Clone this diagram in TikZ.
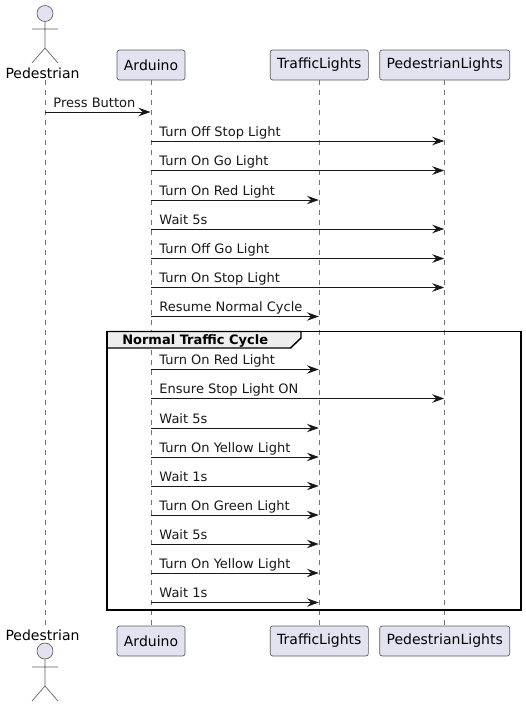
\documentclass[tikz,border=0pt]{standalone}
\usepackage{fontspec}
\setmainfont{DejaVu Sans}
\usetikzlibrary{arrows.meta}
\definecolor{boxfill}{HTML}{E2E2F0}
\definecolor{boxline}{HTML}{181818}
\definecolor{tabfill}{HTML}{EEEEEE}
\begin{document}
\begin{tikzpicture}[x=0.75pt,y=-0.75pt,
  party node/.style={draw=boxline!70, fill=boxfill, rounded corners=1.9pt, line width=0.5pt, font=\fontsize{10.5}{12}\selectfont, minimum height=22.5pt, inner xsep=5.2pt, inner ysep=0pt},
  actor node/.style={font=\fontsize{10.5}{12}\selectfont, inner sep=0pt, text height=8pt, text depth=0pt, minimum height=10.5pt},
  actor figure/.style={draw=boxline!70, line width=0.5pt},
  spine/.style={draw=boxline!60, line width=0.4pt, dash pattern=on 3.75pt off 3.75pt},
  message/.style={draw=boxline, line width=0.7pt, -{Stealth[length=9pt,width=6.4pt,inset=3.2pt]}, shorten >=0.4pt},
  message label/.style={pos=0, anchor=base west, inner sep=0pt, xshift=6pt, yshift=3.75pt, text=boxline, font=\fontsize{9.75}{12}\selectfont},
  group frame/.style={draw=black, line width=1.1pt},
  group title/.style={anchor=base west, inner sep=0pt, font=\fontsize{9.75}{12}\selectfont\bfseries}]
\path[use as bounding box] (0,0) rectangle (525,707);
  % Top row
\node[actor node] (pedTop) at (42.5,73) {Pedestrian};
\node[party node] (ardTop) at (151,65) {Arduino};
\node[party node] (trafTop) at (319.3,65) {TrafficLights};
\node[party node] (pedlTop) at (444.7,65) {PedestrianLights};
  % Bottom row
\node[actor node] (pedBot) at (42.5,635) {Pedestrian};
\node[party node] (ardBot) at (151,641) {Arduino};
\node[party node] (trafBot) at (319.3,641) {TrafficLights};
\node[party node] (pedlBot) at (444.7,641) {PedestrianLights};
  % Lifelines
\coordinate (pedLineTop) at (45,79.5);
\coordinate (pedLineBot) at (45,627.5);
\draw[spine] (pedLineTop) -- (pedLineBot);
\draw[spine] (ardTop) -- (ardBot);
\draw[spine] (trafTop) -- (trafBot);
\draw[spine] (pedlTop) -- (pedlBot);
  % Actors
\draw[actor figure, fill=boxfill] (45,13.5) circle[radius=6pt];
\draw[actor figure] (45,21.5) -- (45,48) (32,29) -- (58,29) (32,63) -- (45,48) -- (58,63);
\draw[actor figure, fill=boxfill] (45,651) circle[radius=6pt];
\draw[actor figure] (45,659) -- (45,686) (32,667) -- (58,667) (32,701) -- (45,686) -- (58,701);
  % Group frame
\draw[group frame, fill=tabfill] (107,331.5) -- (301,331.5) -- (301,338) -- (290.5,348) -- (107,348) -- cycle;
\draw[group frame] (107,331.5) rectangle (521,610);
\node[group title] (groupTitle) at (122,344) {Normal Traffic Cycle};
  % Messages before the group
\coordinate (p1) at (pedLineTop |- 0,112);
\coordinate (a1) at (ardTop |- 0,112);
\draw[message] (p1) -- (a1) node[message label] (m1) {Press Button};
\coordinate (a2) at (ardTop |- 0,141);
\coordinate (l2) at (pedlTop |- 0,141);
\draw[message] (a2) -- (l2) node[message label] (m2) {Turn Off Stop Light};
\coordinate (a3) at (ardTop |- 0,170.5);
\coordinate (l3) at (pedlTop |- 0,170.5);
\draw[message] (a3) -- (l3) node[message label] (m3) {Turn On Go Light};
\coordinate (a4) at (ardTop |- 0,200);
\coordinate (t4) at (trafTop |- 0,200);
\draw[message] (a4) -- (t4) node[message label] (m4) {Turn On Red Light};
\coordinate (a5) at (ardTop |- 0,229);
\coordinate (l5) at (pedlTop |- 0,229);
\draw[message] (a5) -- (l5) node[message label] (m5) {Wait 5s};
\coordinate (a6) at (ardTop |- 0,258.5);
\coordinate (l6) at (pedlTop |- 0,258.5);
\draw[message] (a6) -- (l6) node[message label] (m6) {Turn Off Go Light};
\coordinate (a7) at (ardTop |- 0,287.5);
\coordinate (l7) at (pedlTop |- 0,287.5);
\draw[message] (a7) -- (l7) node[message label] (m7) {Turn On Stop Light};
\coordinate (a8) at (ardTop |- 0,316.5);
\coordinate (t8) at (trafTop |- 0,316.5);
\draw[message] (a8) -- (t8) node[message label] (m8) {Resume Normal Cycle};
  % Messages in the group
\coordinate (a9) at (ardTop |- 0,369.5);
\coordinate (t9) at (trafTop |- 0,369.5);
\draw[message] (a9) -- (t9) node[message label] (m9) {Turn On Red Light};
\coordinate (a10) at (ardTop |- 0,398.5);
\coordinate (l10) at (pedlTop |- 0,398.5);
\draw[message] (a10) -- (l10) node[message label] (m10) {Ensure Stop Light ON};
\coordinate (a11) at (ardTop |- 0,428);
\coordinate (t11) at (trafTop |- 0,428);
\draw[message] (a11) -- (t11) node[message label] (m11) {Wait 5s};
\coordinate (a12) at (ardTop |- 0,457);
\coordinate (t12) at (trafTop |- 0,457);
\draw[message] (a12) -- (t12) node[message label] (m12) {Turn On Yellow Light};
\coordinate (a13) at (ardTop |- 0,486);
\coordinate (t13) at (trafTop |- 0,486);
\draw[message] (a13) -- (t13) node[message label] (m13) {Wait 1s};
\coordinate (a14) at (ardTop |- 0,515);
\coordinate (t14) at (trafTop |- 0,515);
\draw[message] (a14) -- (t14) node[message label] (m14) {Turn On Green Light};
\coordinate (a15) at (ardTop |- 0,544);
\coordinate (t15) at (trafTop |- 0,544);
\draw[message] (a15) -- (t15) node[message label] (m15) {Wait 5s};
\coordinate (a16) at (ardTop |- 0,573);
\coordinate (t16) at (trafTop |- 0,573);
\draw[message] (a16) -- (t16) node[message label] (m16) {Turn On Yellow Light};
\coordinate (a17) at (ardTop |- 0,602.5);
\coordinate (t17) at (trafTop |- 0,602.5);
\draw[message] (a17) -- (t17) node[message label] (m17) {Wait 1s};
\end{tikzpicture}
\end{document}
